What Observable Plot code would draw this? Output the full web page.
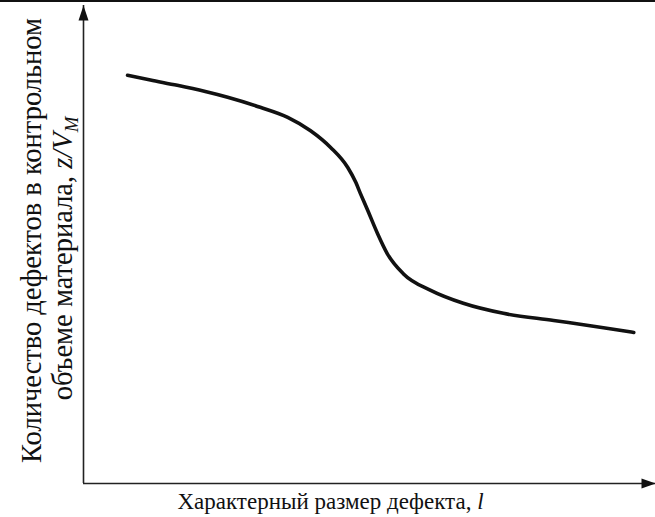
<!DOCTYPE html>
<html>
<head>
<meta charset="utf-8">
<script src="https://cdn.jsdelivr.net/npm/d3@7"></script>
<script src="https://cdn.jsdelivr.net/npm/@observablehq/plot@0.6"></script>
<style>
  body { margin: 0; background: #fff; }
  #chart { width: 655px; border-top: 2px solid #111; }
  #chart svg { display: block; }
  #chart svg text { font-family: "Liberation Serif", "DejaVu Serif", serif; }
</style>
</head>
<body>
<div id="chart"></div>
<script>
// Defect size l (arbitrary units) and defect count per control volume z/V_M
const sizeL  = [0.77, 1.17, 1.64, 2.13, 2.52, 3.09, 3.57, 3.97, 4.32, 4.62, 4.76, 4.84, 4.97, 5.14, 5.31, 5.59, 6.07, 6.64, 7.34, 8.22, 9.09, 9.62];
const countZ = [8.54, 8.44, 8.33, 8.20, 8.08, 7.87, 7.66, 7.38, 7.03, 6.61, 6.30, 6.07, 5.71, 5.23, 4.81, 4.39, 4.04, 3.77, 3.56, 3.41, 3.26, 3.16];

// Axis extents (the arrows end at the domain maxima)
const xDomain = [0, 10];
const yDomain = [0, 10];

// Axis titles; italic pieces are split out
const xLabelParts = ["Характерный размер дефекта, ", "l"];
const yLabelLine1 = "Количество дефектов в контрольном";
const yLabelLine2Parts = ["объеме материала, ", "z/V", "M"];

const curve = sizeL.map((l, i) => ({l, z: countZ[i]}));

// Filled, slender arrowheads with the tip at the anchor point
const arrowUp = {draw(ctx) { ctx.moveTo(0, 0); ctx.lineTo(5, 15); ctx.lineTo(-5, 15); ctx.closePath(); }};
const arrowRight = {draw(ctx) { ctx.moveTo(0, 0); ctx.lineTo(-14, -5); ctx.lineTo(-14, 5); ctx.closePath(); }};

const ink = "#111";
const fontFamily = '"Liberation Serif", "DejaVu Serif", serif';
const textStyle = {fontFamily, fill: ink, textAnchor: "middle", lineAnchor: "middle"};

const plot = Plot.plot({
  width: 655,
  height: 515,
  marginLeft: 83,
  marginRight: 0,
  marginTop: 3,
  marginBottom: 34,
  x: {domain: xDomain, axis: null},
  y: {domain: yDomain, axis: null},
  style: {fontFamily, color: ink, background: "#fff", overflow: "visible"},
  marks: [
    Plot.ruleY([yDomain[0]], {x1: xDomain[0], x2: xDomain[1], stroke: "#222", strokeWidth: 1.6}),
    Plot.ruleX([xDomain[0]], {y1: yDomain[0], y2: yDomain[1], stroke: "#222", strokeWidth: 1.6}),
    Plot.dot([{l: xDomain[1], z: yDomain[0]}], {x: "l", y: "z", symbol: arrowRight, r: 5, fill: ink, stroke: "none"}),
    Plot.dot([{l: xDomain[0], z: yDomain[1]}], {x: "l", y: "z", symbol: arrowUp, r: 5, fill: ink, stroke: "none"}),
    Plot.line(curve, {x: "l", y: "z", curve: "monotone-x", stroke: ink, strokeWidth: 3.6, strokeLinecap: "round"}),
    Plot.text([xLabelParts.join("")], {text: d => d, frameAnchor: "bottom", dx: -39, dy: 18, fontSize: 23, ...textStyle}),
    Plot.text([yLabelLine1], {text: d => d, frameAnchor: "left", rotate: -90, dx: -52, dy: -4, fontSize: 28.5, ...textStyle}),
    Plot.text([yLabelLine2Parts.join("")], {text: d => d, frameAnchor: "left", rotate: -90, dx: -21, dy: 14, fontSize: 28.5, ...textStyle})
  ]
});

// Rebuild the axis titles with italic variables and the subscript M
const svg = d3.select(plot);
const byContent = s => svg.selectAll("text").filter(function() { return this.textContent === s; });
byContent(xLabelParts.join("")).each(function() {
  const t = d3.select(this).text(null);
  t.append("tspan").text(xLabelParts[0]);
  t.append("tspan").attr("font-style", "italic").text(xLabelParts[1]);
});
byContent(yLabelLine2Parts.join("")).each(function() {
  const t = d3.select(this).text(null);
  t.append("tspan").text(yLabelLine2Parts[0]);
  t.append("tspan").attr("font-style", "italic").text(yLabelLine2Parts[1]);
  t.append("tspan").attr("font-style", "italic").attr("font-size", "0.66em").attr("dy", "0.35em").text(yLabelLine2Parts[2]);
});

document.getElementById("chart").appendChild(plot);
</script>
</body>
</html>
